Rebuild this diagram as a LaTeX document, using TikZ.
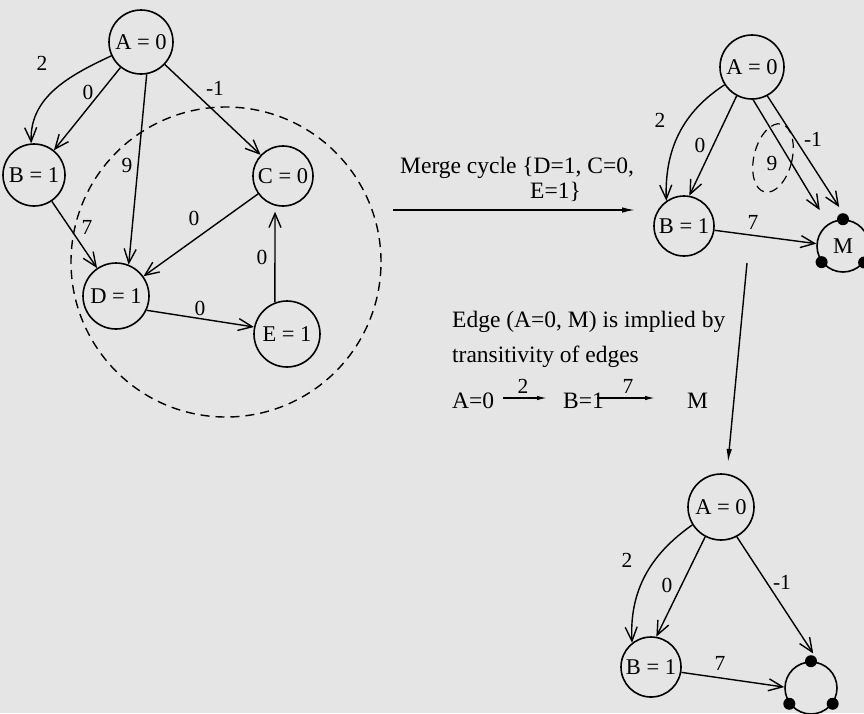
\documentclass[tikz,border=0pt]{standalone}
\usepackage{fontspec}
\setmainfont{Liberation Serif}
\usetikzlibrary{arrows.meta,shapes.geometric}
\definecolor{paper}{RGB}{229,229,229}
\begin{document}
\begin{tikzpicture}[x=1pt,y=-1pt,
  vnode/.style={circle,draw,line width=1.6pt,minimum size=64pt,inner sep=0pt,font=\fontsize{22.5}{26}\selectfont},
  edge/.style={line width=1.4pt,-{Straight Barb[length=14pt,width=12pt,line width=1.4pt]}},
  lab/.style={font=\fontsize{21.5}{25}\selectfont,inner sep=1pt},
  txt/.style={font=\fontsize{23.5}{28}\selectfont,inner sep=0pt,anchor=base west},
  bigarrow/.style={line width=1.4pt,-{Latex[length=13pt,width=5.5pt]}},
  smallarrow/.style={line width=1.3pt,-{Latex[length=10pt,width=4.5pt]}},
  dot/.style={circle,fill,inner sep=0pt,minimum size=12pt},
  cyc/.style={draw,line width=1.4pt,dash pattern=on 9pt off 6pt}]

\fill[paper] (0,0) rectangle (864,713);
\useasboundingbox (0,0) rectangle (864,713);

% ---------- left graph ----------
\node[vnode] (A1) at (141,42) {A = 0};
\node[vnode,minimum size=62pt] (B1) at (34,175) {B = 1};
\node[vnode,minimum size=60pt] (C1) at (283,176) {C = 0};
\node[vnode,minimum size=66pt] (D1) at (116,296) {D = 1};
\node[vnode,minimum size=66pt] (E1) at (287,334) {E = 1};
\node[cyc,circle,minimum size=310pt,inner sep=0pt] (cycle) at (226,262) {};

\draw[edge] (A1.205) to[out=205,in=92] (B1.95);
\draw[edge] (A1) -- (B1);
\draw[edge] (A1.-80) -- (D1.68);
\draw[edge] (A1) -- (C1);
\draw[edge] (B1) -- (D1);
\draw[edge] (C1) -- (D1);
\draw[edge] (D1.-25) -- (E1.168);
\draw[edge,shorten >=6pt] (E1.111) -- (C1.-105);

\node[lab] (l1a) at (42,63) {2};
\node[lab] (l1b) at (88,92) {0};
\node[lab] (l1c) at (127,165) {9};
\node[lab] (l1d) at (215,88) {-1};
\node[lab] (l1e) at (87,227) {7};
\node[lab] (l1f) at (194,218) {0};
\node[lab] (l1g) at (262,257) {0};
\node[lab] (l1h) at (200,308) {0};

% ---------- merge arrow ----------
\coordinate (m1) at (393,210);
\coordinate (m2) at (635,210);
\draw[bigarrow] (m1) -- (m2);
\node[txt] (t1) at (400,173) {Merge cycle \{D=1, C=0,};
\node[txt] (t2) at (530,198) {E=1\}};

% ---------- top right graph ----------
\node[vnode] (A2) at (752,67) {A = 0};
\node[vnode,minimum size=60pt] (B2) at (684,226) {B = 1};
\node[vnode,minimum size=52pt] (M2) at (843,246) {M};
\node[dot] (d2a) at (M2.90) {};
\node[dot] (d2b) at (M2.217) {};
\node[dot] (d2c) at (M2.322) {};
\node[cyc,ellipse,minimum width=38pt,minimum height=70pt,inner sep=0pt,rotate=-14,line width=1.2pt] (ell) at (773,158) {};

\draw[edge] (A2.213) to[out=213,in=92] (B2.125);
\draw[edge] (A2.242) -- (B2.80);
\draw[edge,shorten >=16pt] (A2.-88) -- (M2.124);
\draw[edge,shorten >=7pt] (A2.-62) -- (d2a.north);
\draw[edge] (B2.-8) -- (M2.175);

\node[lab] (l2a) at (660,120) {2};
\node[lab] (l2b) at (700,145) {0};
\node[lab] (l2c) at (772,163) {9};
\node[lab] (l2d) at (813,139) {-1};
\node[lab] (l2e) at (753,222) {7};

% ---------- explanation ----------
\node[txt] (e1) at (452,327) {Edge (A=0, M) is implied by};
\node[txt] (e2) at (452,362) {transitivity of edges};
\node[txt] (ta) at (452,408) {A=0};
\node[txt] (tb) at (563,408) {B=1};
\node[txt] (tc) at (687,408) {M};
\coordinate (ar1s) at (503,398);
\coordinate (ar1e) at (547,398);
\coordinate (ar2s) at (597,398);
\coordinate (ar2e) at (655,398);
\draw[smallarrow] (ar1s) -- (ar1e);
\draw[smallarrow] (ar2s) -- (ar2e);
\node[lab] (ta2) at (523,386) {2};
\node[lab] (ta7) at (628,386) {7};

% ---------- down arrow ----------
\coordinate (v1) at (747,263);
\coordinate (v2) at (728,462);
\draw[bigarrow] (v1) -- (v2);

% ---------- bottom right graph ----------
\node[vnode,minimum size=66pt] (A3) at (721,507) {A = 0};
\node[vnode,minimum size=60pt] (B3) at (651,667) {B = 1};
\node[vnode,minimum size=52pt] (M3) at (811,688) {};
\node[dot] (d3a) at (M3.90) {};
\node[dot] (d3b) at (M3.216) {};
\node[dot] (d3c) at (M3.324) {};

\draw[edge] (A3.212) to[out=215,in=93] (B3.128);
\draw[edge] (A3.242) -- (B3.80);
\draw[edge,shorten >=4pt] (A3.-62) -- (d3a.north east);
\draw[edge] (B3.-10) -- (M3.178);

\node[lab] (l3a) at (627,560) {2};
\node[lab] (l3b) at (667,585) {0};
\node[lab] (l3c) at (782,582) {-1};
\node[lab] (l3d) at (720,663) {7};
\end{tikzpicture}
\end{document}
